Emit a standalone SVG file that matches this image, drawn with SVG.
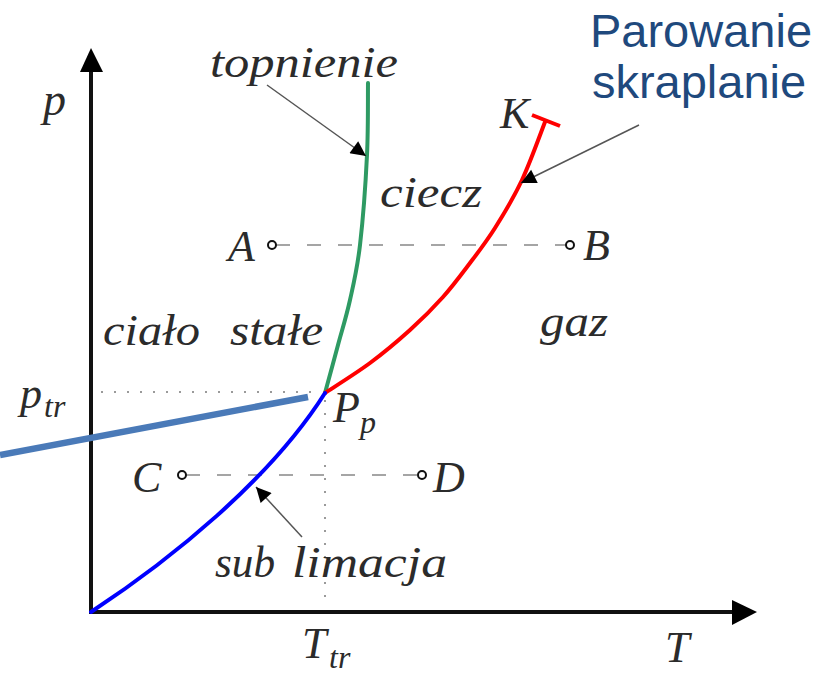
<svg xmlns="http://www.w3.org/2000/svg" width="836" height="679" viewBox="0 0 836 679">
<defs>
<style>
.m{font-family:"Liberation Serif","DejaVu Serif",serif;font-style:italic;fill:#2b2b2b;font-size:44px}
.s{font-size:32px}
.blue{font-family:"Liberation Sans",Arial,sans-serif;fill:#1f497d;font-size:47px}
.axis{stroke:#111;stroke-width:4;fill:none}
.curve{fill:none;stroke-width:4;stroke-linecap:round}
.dash{stroke:#888;stroke-width:1.6;stroke-dasharray:14 17;fill:none}
.dot{stroke:#9a9a9a;stroke-width:2;stroke-dasharray:2 11;fill:none}
.pt{fill:#fff;stroke:#111;stroke-width:2}
.ann{stroke:#555;stroke-width:1.5;fill:none;marker-end:url(#ah)}
</style>
<marker id="ah" viewBox="0 0 10 10" refX="10" refY="5" markerWidth="18" markerHeight="15" markerUnits="userSpaceOnUse" orient="auto">
<path d="M0,0 L10,5 L0,10 z" fill="#000"/>
</marker>
</defs>
<rect width="836" height="679" fill="#fff"/>
<g id="axes">
<line class="axis" x1="91" y1="612" x2="91" y2="70"/>
<polygon points="91,48 80,72 103,72" fill="#000"/>
<line class="axis" x1="89" y1="612" x2="735" y2="612"/>
<polygon points="757,612 732,600 732,625" fill="#000"/>
<text class="m" x="43" y="115" style="font-size:46px">p</text>
<text class="m" x="665" y="662">T</text>
<text class="m" x="302" y="658">T</text><text class="m s" x="329" y="668">tr</text>
<text class="m" x="20" y="408">p</text><text class="m s" x="44" y="417">tr</text>
</g>
<g id="guides">
<line class="dot" x1="101" y1="392" x2="322" y2="392"/>
<line class="dot" x1="325" y1="400" x2="325" y2="606"/>
<line class="dash" x1="276" y1="245" x2="566" y2="245"/>
<line class="dash" x1="186" y1="475" x2="418" y2="475"/>
</g>
<g id="curves">
<path id="topnienie-curve" class="curve" stroke="#2e9a63" d="M325,393 C327.2,385 333.8,360.5 338,345 C342.2,329.5 346.3,316.7 350,300 C353.7,283.3 357.2,269.2 360,245 C362.8,220.8 365.7,182 367,155 C368.3,128 367.8,95 368,83"/>
<path id="parowanie-curve" class="curve" stroke="#ff0000" d="M325,393 C332.5,388 355.8,373.5 370,363 C384.2,352.5 397.8,341 410,330 C422.2,319 433,308.2 443,297 C453,285.8 461.3,274.5 470,263 C478.7,251.5 486.3,241.8 495,228 C503.7,214.2 513.7,197.7 522,180 C530.3,162.3 541.2,131.7 545,122"/>
<line stroke="#ff0000" stroke-width="4" x1="532" y1="115" x2="560" y2="126"/>
<path id="sublimacja-curve" class="curve" stroke="#0000ff" d="M91,612 C170,560 270,480 325,393"/>
</g>
<g id="point-A"><circle class="pt" cx="272" cy="245" r="4"/><text class="m" x="228" y="261">A</text></g>
<g id="point-B"><circle class="pt" cx="570" cy="245" r="4"/><text class="m" x="583" y="260">B</text></g>
<g id="point-C"><circle class="pt" cx="182" cy="475" r="4"/><text class="m" x="132" y="492">C</text></g>
<g id="point-D"><circle class="pt" cx="422" cy="475" r="4"/><text class="m" x="433" y="492">D</text></g>
<g id="point-K"><text class="m" x="500" y="128">K</text></g>
<g id="point-Pp"><text class="m" x="333" y="422">P</text><text class="m s" x="360" y="433">p</text></g>
<g id="regions">
<text class="m" x="103" y="345" textLength="97" lengthAdjust="spacingAndGlyphs">ciało</text>
<text class="m" x="230" y="345" textLength="93" lengthAdjust="spacingAndGlyphs">stałe</text>
<text class="m" x="380" y="207" textLength="102" lengthAdjust="spacingAndGlyphs">ciecz</text>
<text class="m" x="540" y="336" textLength="68" lengthAdjust="spacingAndGlyphs">gaz</text>
</g>
<g id="label-topnienie"><text class="m" x="210" y="77" textLength="188" lengthAdjust="spacingAndGlyphs">topnienie</text></g>
<g id="label-sublimacja">
<text class="m" x="215" y="577" textLength="60" lengthAdjust="spacingAndGlyphs">sub</text>
<text class="m" x="292" y="577" textLength="155" lengthAdjust="spacingAndGlyphs">limacja</text>
</g>
<g id="label-parowanie">
<text class="blue" x="701" y="47" text-anchor="middle">Parowanie</text>
<text class="blue" x="699" y="98" text-anchor="middle">skraplanie</text>
</g>
<g id="connectors">
<line class="ann" x1="267" y1="85" x2="366" y2="156"/>
<line class="ann" x1="639" y1="125" x2="521" y2="183"/>
<line class="ann" x1="302" y1="537" x2="256" y2="487"/>
<line id="callout" stroke="#4a7ab8" stroke-width="6.5" x1="0" y1="455" x2="308" y2="397"/>
</g>
</svg>
